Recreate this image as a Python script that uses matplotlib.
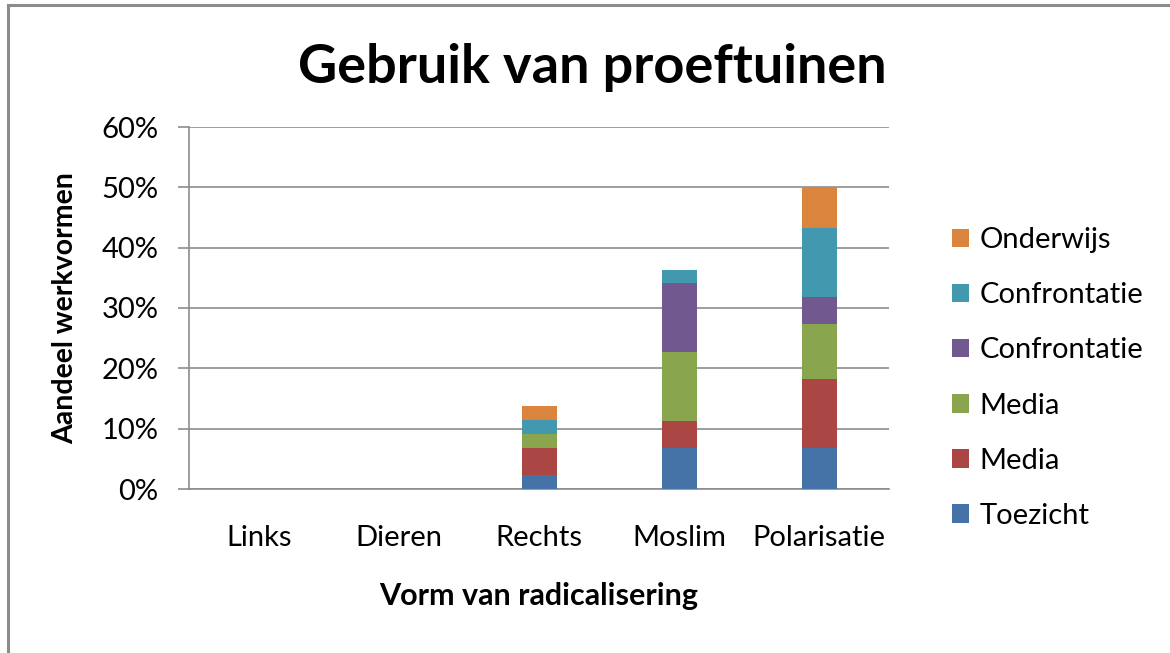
import matplotlib.pyplot as plt
import numpy as np
from matplotlib.lines import Line2D
from matplotlib.patches import Patch

categories = ['Links', 'Dieren', 'Rechts', 'Moslim', 'Polarisatie']
series_names = ['Toezicht', 'Media', 'Media', 'Confrontatie', 'Confrontatie', 'Onderwijs']
colors = ['#4572A7', '#AA4643', '#89A54E', '#71588F', '#4198AF', '#DB843D']

# percent of work forms per category, stacked bottom -> top
toezicht = [0, 0, 2.3, 6.8, 6.8]
media_1 = [0, 0, 4.5, 4.5, 11.4]
media_2 = [0, 0, 2.3, 11.4, 9.1]
confrontatie_1 = [0, 0, 0, 11.4, 4.5]
confrontatie_2 = [0, 0, 2.3, 2.2, 11.4]
onderwijs = [0, 0, 2.3, 0, 6.8]
series = [toezicht, media_1, media_2, confrontatie_1, confrontatie_2, onderwijs]

plt.rcParams['font.family'] = ['Lato', 'DejaVu Sans']

fig = plt.figure(figsize=(11.7, 6.53), dpi=100)
ax = fig.add_axes([189 / 1170, 1 - 489 / 653, 700 / 1170, 362 / 653])

x = np.arange(len(categories))
bottom = np.zeros(len(categories))
for vals, c in zip(series, colors):
    vals = np.array(vals) / 100
    ax.bar(x, vals, width=0.25, bottom=bottom, color=c, zorder=3)
    bottom += vals

ax.set_xlim(-0.5, len(categories) - 0.5)
ax.set_ylim(0, 0.6)
ax.set_yticks(np.arange(0, 0.61, 0.1))
ax.set_yticklabels(['%d%%' % round(v * 100) for v in np.arange(0, 0.61, 0.1)])
ax.set_xticks(x)
ax.set_xticklabels(categories)
ax.yaxis.grid(True, color='#8c8c8c', linewidth=1.2, zorder=0)
for s in ['top', 'right']:
    ax.spines[s].set_visible(False)
for s in ['left', 'bottom']:
    ax.spines[s].set_color('#8c8c8c')
    ax.spines[s].set_linewidth(1.2)
ax.tick_params(axis='y', length=8, width=1.2, color='#8c8c8c', labelsize=21, pad=14)
ax.tick_params(axis='x', length=0, labelsize=21, pad=26)

ax.set_xlabel('Vorm van radicalisering', fontsize=22, fontweight='bold', labelpad=22)
ax.set_ylabel('Aandeel werkvormen', fontsize=20.5, fontweight='bold', labelpad=17)
fig.text(592 / 1170, 1 - 67 / 653, 'Gebruik van proeftuinen', fontsize=39,
         fontweight='bold', ha='center', va='center')

handles = [Patch(facecolor=c, label=n) for n, c in zip(series_names, colors)][::-1]
fig.legend(handles=handles, loc='center left', bbox_to_anchor=(940 / 1170, 1 - 378 / 653),
           frameon=False, fontsize=21, handlelength=0.6, handleheight=0.6,
           handletextpad=0.35, labelspacing=1.0, borderaxespad=0)

# outer chart frame
fig.add_artist(Line2D([8 / 1170, 8 / 1170], [0, 1 - 5 / 653], color='#8c8c8c', linewidth=2.2))
fig.add_artist(Line2D([8 / 1170, 1], [1 - 5 / 653, 1 - 5 / 653], color='#8c8c8c', linewidth=2.2))

fig.savefig('out.png', dpi=100)
